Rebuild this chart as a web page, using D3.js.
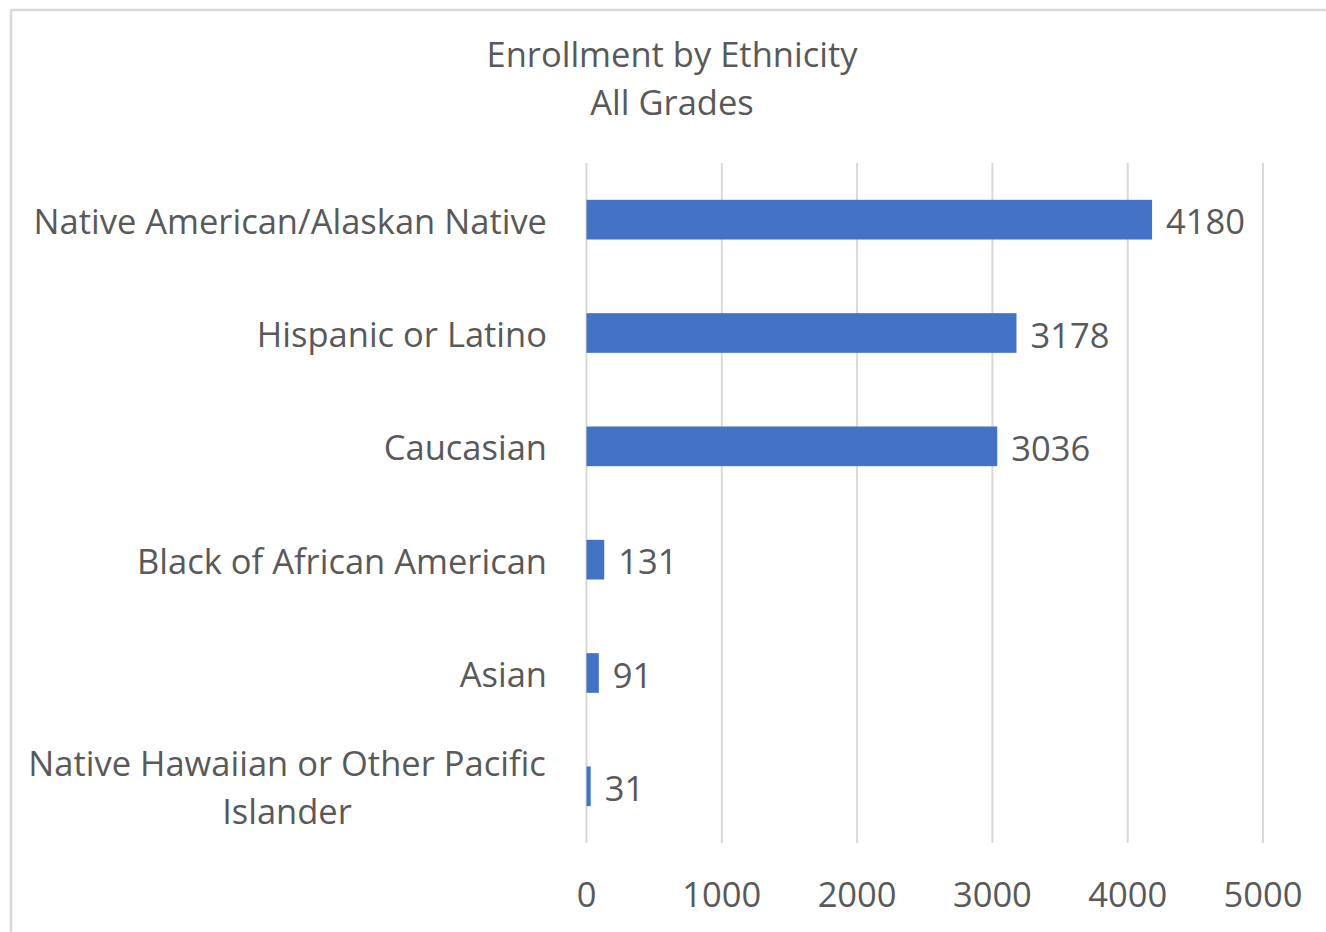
<!DOCTYPE html>
<html>
<head>
<meta charset="utf-8">
<script src="https://cdn.jsdelivr.net/npm/d3@7"></script>
<style>
  body { margin: 0; background: #fff; }
  text { font-family: "Open Sans", Lato, sans-serif; fill: #595959; }
</style>
</head>
<body>
<svg id="chart" width="1326" height="932"></svg>
<script>
var categories = [
  "Native American/Alaskan Native",
  "Hispanic or Latino",
  "Caucasian",
  "Black of African American",
  "Asian",
  "Native Hawaiian or Other Pacific Islander"
];
var enrollment = [4180, 3178, 3036, 131, 91, 31];
var xTicks = [0, 1000, 2000, 3000, 4000, 5000];
var titleLines = ["Enrollment by Ethnicity", "All Grades"];

var svg = d3.select("#chart");

// chart frame
svg.append("rect")
  .attr("x", 11).attr("y", 10)
  .attr("width", 1330).attr("height", 940)
  .attr("fill", "none")
  .attr("stroke", "#d9d9d9")
  .attr("stroke-width", 2.5);

var x = d3.scaleLinear().domain([0, 5000]).range([586.5, 1263]);
var y = d3.scaleBand().domain(categories).range([163, 843]).paddingInner(0.65).paddingOuter(0.325);

// title
svg.selectAll(".title").data(titleLines).enter().append("text")
  .attr("class", "title")
  .attr("x", 672)
  .attr("y", function(d, i) { return 53 + i * 48; })
  .attr("text-anchor", "middle")
  .attr("dominant-baseline", "central")
  .attr("font-size", 34.5)
  .text(function(d) { return d; });

// gridlines
svg.selectAll(".grid").data(xTicks).enter().append("line")
  .attr("x1", function(d) { return x(d); })
  .attr("x2", function(d) { return x(d); })
  .attr("y1", 163).attr("y2", 843)
  .attr("stroke", "#d9d9d9")
  .attr("stroke-width", 2);

// x tick labels
svg.selectAll(".xtick").data(xTicks).enter().append("text")
  .attr("x", function(d) { return x(d); })
  .attr("y", 893)
  .attr("text-anchor", "middle")
  .attr("dominant-baseline", "central")
  .attr("font-size", 34.5)
  .text(function(d) { return d; });

// bars
var rows = categories.map(function(c, i) { return {cat: c, val: enrollment[i]}; });

svg.selectAll(".bar").data(rows).enter().append("rect")
  .attr("x", x(0))
  .attr("y", function(d) { return y(d.cat); })
  .attr("width", function(d) { return x(d.val) - x(0); })
  .attr("height", y.bandwidth())
  .attr("fill", "#4472c4");

// value labels
svg.selectAll(".val").data(rows).enter().append("text")
  .attr("x", function(d) { return x(d.val) + 14; })
  .attr("y", function(d) { return y(d.cat) + y.bandwidth() / 2 + 1; })
  .attr("dominant-baseline", "central")
  .attr("font-size", 34.5)
  .text(function(d) { return d.val; });

// category labels (last one wraps onto two lines)
var catLabels = svg.selectAll(".cat").data(rows).enter().append("text")
  .attr("dominant-baseline", "central")
  .attr("font-size", 34.5);

catLabels.each(function(d) {
  var t = d3.select(this);
  var cy = y(d.cat) + y.bandwidth() / 2;
  var lines = d.cat === "Native Hawaiian or Other Pacific Islander"
    ? ["Native Hawaiian or Other Pacific", "Islander"] : [d.cat];
  lines.forEach(function(line, i) {
    var off = (i - (lines.length - 1) / 2) * 48;
    t.append("tspan")
      .attr("x", lines.length > 1 ? 287 : 547)
      .attr("y", cy + off)
      .attr("text-anchor", lines.length > 1 ? "middle" : "end")
      .text(line);
  });
});
</script>
</body>
</html>
